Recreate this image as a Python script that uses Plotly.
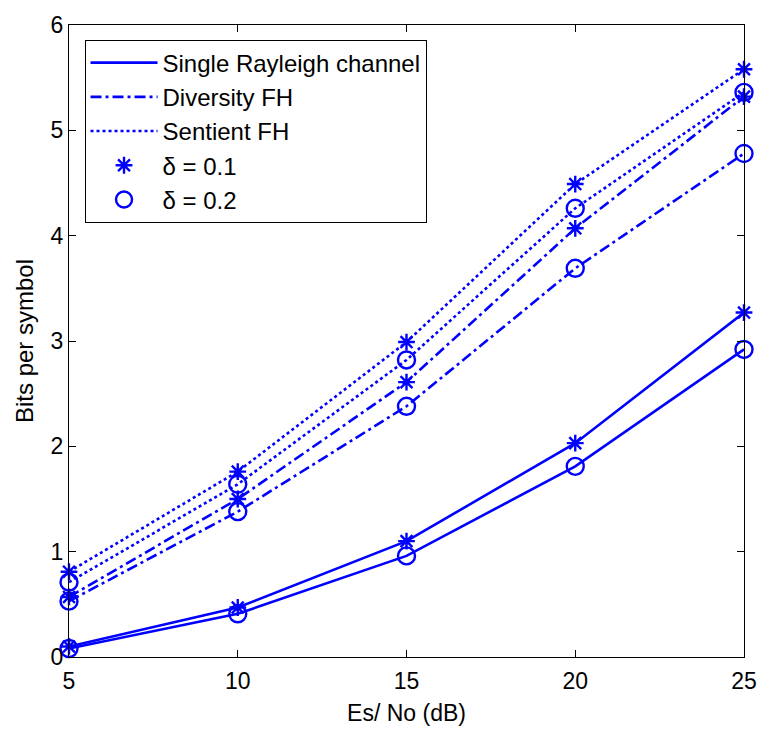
import plotly.graph_objects as go

snr = [5, 10, 15, 20, 25]

single_d01 = [0.10, 0.47, 1.10, 2.03, 3.27]
single_d02 = [0.08, 0.41, 0.96, 1.81, 2.92]
diversity_d01 = [0.57, 1.50, 2.61, 4.07, 5.32]
diversity_d02 = [0.53, 1.38, 2.38, 3.69, 4.78]
sentient_d01 = [0.81, 1.76, 2.99, 4.49, 5.58]
sentient_d02 = [0.71, 1.64, 2.82, 4.26, 5.36]

BLUE = "#0000FF"
LW = 2.6
DOT = "3px,3px"
DASHDOT = "11px,4px,3px,4px"
FONT = "Liberation Sans, Arial"

series = [
    (single_d01, "solid", "asterisk-open", 14),
    (single_d02, "solid", "circle-open", 17),
    (diversity_d01, DASHDOT, "asterisk-open", 14),
    (diversity_d02, DASHDOT, "circle-open", 17),
    (sentient_d01, DOT, "asterisk-open", 14),
    (sentient_d02, DOT, "circle-open", 17),
]

fig = go.Figure()
for ys, dash, sym, sz in series:
    fig.add_trace(go.Scatter(
        x=snr, y=ys, mode="lines+markers", showlegend=False, cliponaxis=False,
        line=dict(color=BLUE, width=LW, dash=dash),
        marker=dict(symbol=sym, size=sz, color=BLUE,
                    line=dict(color=BLUE, width=2.4)),
    ))

legend_lines = [("Single Rayleigh channel", "solid"),
                ("Diversity FH", DASHDOT),
                ("Sentient FH", DOT)]
for name, dash in legend_lines:
    fig.add_trace(go.Scatter(
        x=[None], y=[None], mode="lines", name=name,
        line=dict(color=BLUE, width=LW, dash=dash)))

legend_marks = [("δ = 0.1", "asterisk-open", 14), ("δ = 0.2", "circle-open", 17)]
for name, sym, sz in legend_marks:
    fig.add_trace(go.Scatter(
        x=[None], y=[None], mode="markers", name=name,
        marker=dict(symbol=sym, size=sz, color=BLUE,
                    line=dict(color=BLUE, width=2.4))))

axis_common = dict(
    showline=True, linecolor="black", linewidth=1, mirror="ticks",
    ticks="inside", ticklen=7, tickcolor="black", tickwidth=1,
    showgrid=False, zeroline=False,
    tickfont=dict(family=FONT, size=23, color="black"),
)

fig.update_layout(
    width=769, height=734,
    margin=dict(l=69, r=17, t=17, b=76),
    paper_bgcolor="white", plot_bgcolor="white",
    font=dict(family=FONT, color="black"),
    xaxis=dict(range=[5, 25], tickvals=[5, 10, 15, 20, 25],
               title=dict(text="Es/ No (dB)", font=dict(size=23), standoff=12),
               ticklabelstandoff=3,
               **axis_common),
    yaxis=dict(range=[0, 6], tickvals=[0, 1, 2, 3, 4, 5, 6],
               title=dict(text="Bits per symbol", font=dict(size=24), standoff=10),
               **axis_common),
    legend=dict(x=0.023, y=0.977, xanchor="left", yanchor="top",
                bgcolor="white", bordercolor="black", borderwidth=1,
                font=dict(size=24, family=FONT),
                itemwidth=67, tracegroupgap=0),
)

fig.write_html("out.html")
